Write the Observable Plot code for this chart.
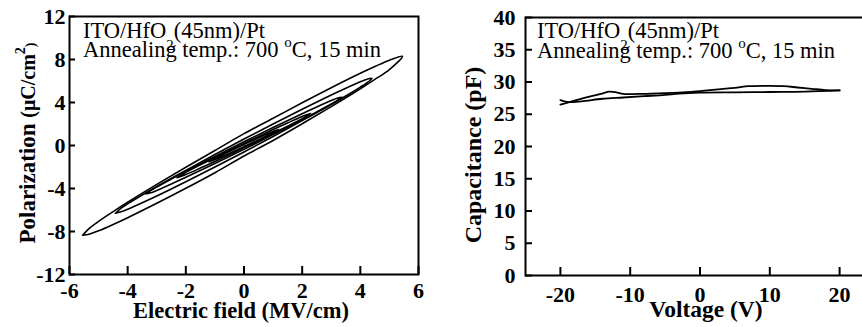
<!DOCTYPE html>
<html><head><meta charset="utf-8">
<script src="https://cdn.jsdelivr.net/npm/d3@7"></script>
<script src="https://cdn.jsdelivr.net/npm/@observablehq/plot@0.6"></script>
<style>
body{margin:0;background:#fff;overflow:hidden;}
#wrap{position:relative;width:862px;height:327px;overflow:hidden;background:#fff;}
#left{position:absolute;left:0;top:0;width:430px;}
#right{position:absolute;left:430px;top:0;width:460px;}
#wrap svg{max-width:none !important;}
</style></head><body><div id="wrap"><div id="left"></div><div id="right"></div></div>
<script>
// ---- Left panel: P-E hysteresis loops ----
const peTicksX = [-6, -4, -2, 0, 2, 4, 6];
const peTicksY = [-12, -8, -4, 0, 4, 8, 12];

const loop1E = [-5.55,-5.3,-5,-4.5,-4,-3,-2,-1,0,1,2,3,4,4.5,5,5.45, 5,4.5,4,3,2,1,0,-1,-2,-3,-4,-4.5,-5,-5.3,-5.55];
const loop1P = [-8.35,-7.67,-7.06,-6.15,-5.28,-3.62,-2.02,-0.47,1.1,2.53,3.98,5.38,6.72,7.35,7.94,8.3, 7.06,6.15,5.28,3.62,2.02,0.47,-0.98,-2.53,-3.98,-5.38,-6.72,-7.35,-7.94,-8.23,-8.35];

const loop2E = [-4.42,-4.2,-4,-3.5,-3,-2,-1,0,1,2,3,3.5,4,4.2,4.4, 4.2,4,3.5,3,2,1,0,-1,-2,-3,-3.5,-4,-4.2,-4.42];
const loop2P = [-6.3,-5.78,-5.43,-4.61,-3.82,-2.31,-0.84,0.6,2.0,3.37,4.70,5.33,5.93,6.14,6.25, 5.78,5.43,4.61,3.82,2.31,0.84,-0.6,-2.0,-3.37,-4.70,-5.33,-5.93,-6.14,-6.3];

const loop3E = [-3.37,-3.2,-3,-2.5,-2,-1,0,1,2,2.5,3,3.2,3.37, 3.2,3,2.5,2,1,0,-1,-2,-2.5,-3,-3.2,-3.37];
const loop3P = [-4.5,-4.18,-3.86,-3.12,-2.40,-1.01,0.35,1.67,2.96,3.58,4.18,4.40,4.5, 4.18,3.86,3.12,2.40,1.01,-0.35,-1.67,-2.96,-3.58,-4.18,-4.40,-4.5];

const loop4E = [-2.3,-2,-1.5,-1,0,1,1.5,2,2.3, 2,1.5,1,0,-1,-1.5,-2,-2.3];
const loop4P = [-3.0,-2.5,-1.80,-1.12,0.2,1.48,2.10,2.70,3.0, 2.5,1.80,1.12,-0.2,-1.48,-2.10,-2.70,-3.0];

const loop5E = [-1.2,-0.8,0,0.8,1.2, 0.8,0,-0.8,-1.2];
const loop5P = [-1.52,-0.94,0.1,1.09,1.52, 0.94,-0.1,-1.09,-1.52];

// ---- Right panel: C-V ----
const cvTicksX = [-20, -10, 0, 10, 20];
const cvTicksY = [0, 5, 10, 15, 20, 25, 30, 35, 40];
const cvFwdV = [-20,-18,-16,-14,-13,-12,-11,-9,-6,-3,0,3,5,7,10,12,14,16,18,20];
const cvFwdC = [26.5,27.1,27.7,28.2,28.5,28.4,28.15,28.15,28.25,28.35,28.6,28.9,29.1,29.35,29.4,29.35,29.15,28.95,28.75,28.7];
const cvRevV = [20,15,10,5,0,-3,-5,-8,-11,-14,-17,-19,-20];
const cvRevC = [28.7,28.5,28.45,28.4,28.35,28.2,28.0,27.8,27.6,27.4,27.0,26.9,27.2];

const serif = "'Liberation Serif', 'Times New Roman', Times, serif";
const fmt = d => String(d);
const blank = () => "";

const loops = [[loop1E, loop1P], [loop2E, loop2P], [loop3E, loop3P], [loop4E, loop4P], [loop5E, loop5P]];
const loopData = loops.flatMap(([E, P], i) => E.map((e, j) => ({loop: i, E: e, P: P[j]})));
const cvData = [
  ...cvFwdV.map((v, j) => ({sweep: "fwd", V: v, C: cvFwdC[j]})),
  ...cvRevV.map((v, j) => ({sweep: "rev", V: v, C: cvRevC[j]}))
];

const baseStyle = {fontFamily: serif, fontSize: "22px", fontWeight: "bold", color: "#000", background: "#fff", overflow: "visible", maxWidth: "none"};

const left = Plot.plot({
  width: 430, height: 327,
  marginLeft: 69, marginRight: 12, marginTop: 16, marginBottom: 53,
  x: {domain: [-6, 6]}, y: {domain: [-12, 12]},
  style: baseStyle,
  marks: [
    Plot.line(loopData, {x: "E", y: "P", z: "loop", curve: "catmull-rom", stroke: "#000", strokeWidth: 1.6}),
    Plot.frame({stroke: "#000", strokeWidth: 2}),
    // inward ticks (shifted back inside the frame)
    Plot.axisX({ticks: peTicksX, tickSize: 8, dy: -8, tickFormat: blank, label: null, stroke: "#000", strokeWidth: 2}),
    Plot.axisY({ticks: peTicksY, tickSize: 6, dx: 6, tickFormat: blank, label: null, stroke: "#000", strokeWidth: 2}),
    // tick labels
    Plot.axisX({ticks: peTicksX, tickSize: 0, tickPadding: 8, tickFormat: fmt, label: null}),
    Plot.axisY({ticks: peTicksY, tickSize: 0, tickPadding: 4, tickFormat: fmt, label: null})
  ]
});
document.getElementById("left").appendChild(left);

const right = Plot.plot({
  width: 460, height: 327,
  marginLeft: 95, marginRight: 16, marginTop: 17, marginBottom: 52,
  x: {domain: [-25, 25]}, y: {domain: [0, 40]},
  style: baseStyle,
  marks: [
    Plot.line(cvData, {x: "V", y: "C", z: "sweep", curve: "catmull-rom", stroke: "#000", strokeWidth: 1.8}),
    Plot.frame({stroke: "#000", strokeWidth: 2}),
    Plot.axisX({ticks: cvTicksX, tickSize: 8, dy: -8, tickFormat: blank, label: null, stroke: "#000", strokeWidth: 2}),
    Plot.axisY({ticks: cvTicksY, tickSize: 7, dx: 7, tickFormat: blank, label: null, stroke: "#000", strokeWidth: 2}),
    Plot.axisX({ticks: cvTicksX, tickSize: 0, tickPadding: 11, tickFormat: fmt, label: null}),
    Plot.axisY({ticks: cvTicksY, tickSize: 0, tickPadding: 10, tickFormat: fmt, label: null})
  ]
});
document.getElementById("right").appendChild(right);

function annot(svg, x, y1, y2) {
  const g = svg.append("g").attr("font-family", serif).attr("font-weight", "normal")
    .attr("font-size", 22.5).attr("fill", "#000").attr("text-anchor", "start");
  const t1 = g.append("text").attr("x", x).attr("y", y1);
  t1.append("tspan").text("ITO/HfO");
  t1.append("tspan").attr("font-size", 15).attr("dy", 12).text("2");
  t1.append("tspan").attr("dy", -12).text("(45nm)/Pt");
  const t2 = g.append("text").attr("x", x).attr("y", y2);
  t2.append("tspan").text("Annealing temp.: 700 ");
  t2.append("tspan").attr("font-size", 15).attr("dy", -10).text("o");
  t2.append("tspan").attr("dy", 10).text("C, 15 min");
}
function xlabel(svg, x, y, txt, size) {
  svg.append("text").attr("x", x).attr("y", y).attr("text-anchor", "middle")
    .attr("font-family", serif).attr("font-weight", "bold").attr("font-size", size).attr("fill", "#000").text(txt);
}

const sL = d3.select(left), sR = d3.select(right);
annot(sL, 83, 38, 57);
annot(sR, 107, 38, 58);
xlabel(sL, 241, 318, "Electric field (MV/cm)", 22.5);
xlabel(sR, 276, 317, "Voltage (V)", 23.5);

const yl = sL.append("text").attr("transform", "translate(35,143) rotate(-90)").attr("text-anchor", "middle")
  .attr("font-family", serif).attr("font-weight", "bold").attr("font-size", 23).attr("fill", "#000");
yl.append("tspan").text("Polarization ");
yl.append("tspan").attr("font-size", 20).text("(μC/cm");
yl.append("tspan").attr("font-size", 14).attr("dy", -10).text("2");
yl.append("tspan").attr("font-size", 14).attr("dy", 10).text(")");

sR.append("text").attr("transform", "translate(51,155) rotate(-90)").attr("text-anchor", "middle")
  .attr("font-family", serif).attr("font-weight", "bold").attr("font-size", 24).attr("fill", "#000")
  .text("Capacitance (pF)");
</script>
</body></html>
